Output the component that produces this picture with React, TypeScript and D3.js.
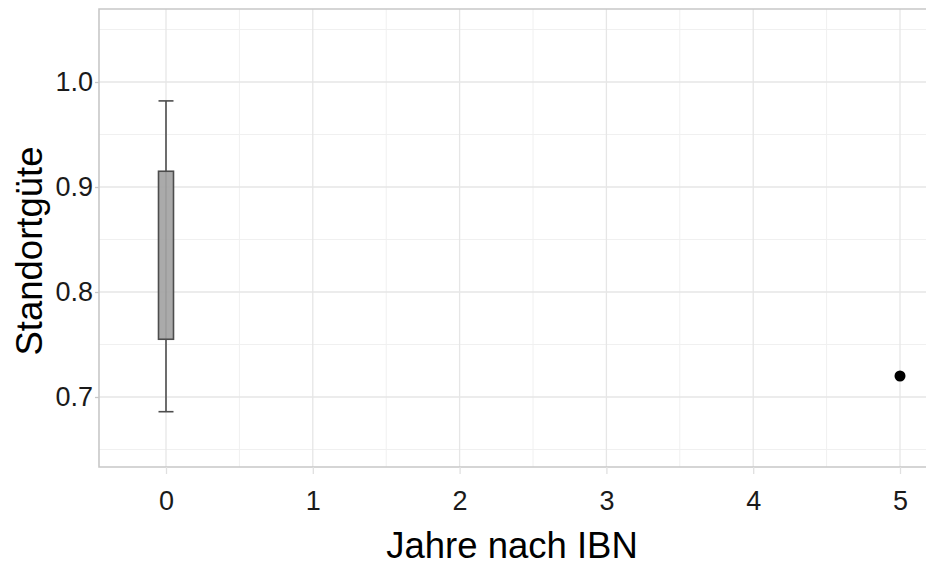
import { useEffect, useRef } from 'react';
import * as d3 from 'd3';

// box statistics per year (only year 0 has a box)
const boxYears = [0];
const boxLower = [0.686];
const boxQ1 = [0.755];
const boxQ3 = [0.915];
const boxUpper = [0.982];

// single observations
const pointYears = [5];
const pointValues = [0.72];

const xTicks = [0, 1, 2, 3, 4, 5];
const yTicks = [0.7, 0.8, 0.9, 1.0];
const yMinor = [0.65, 0.75, 0.85, 0.95, 1.05];
const xMinor = [0.5, 1.5, 2.5, 3.5, 4.5];

const W = 926;
const H = 566;
const panel = { left: 99, top: 9, right: 926, bottom: 467 };

function App() {
  const svgRef = useRef(null);

  useEffect(() => {
    const svg = d3.select(svgRef.current);
    svg.selectAll('*').remove();

    const x = d3.scaleLinear().domain([0, 5]).range([166, 900]);
    const y = d3.scaleLinear().domain([0.7, 1.0]).range([397, 82]);

    const font = 'Liberation Sans, Arial, Helvetica, sans-serif';

    // grid
    const grid = svg.append('g');
    grid
      .selectAll('line.ymin')
      .data(yMinor)
      .join('line')
      .attr('x1', panel.left)
      .attr('x2', panel.right)
      .attr('y1', d => y(d))
      .attr('y2', d => y(d))
      .attr('stroke', '#f0f0f0')
      .attr('stroke-width', 1);
    grid
      .selectAll('line.xmin')
      .data(xMinor)
      .join('line')
      .attr('y1', panel.top)
      .attr('y2', panel.bottom)
      .attr('x1', d => x(d))
      .attr('x2', d => x(d))
      .attr('stroke', '#f0f0f0')
      .attr('stroke-width', 1);
    grid
      .selectAll('line.ymaj')
      .data(yTicks)
      .join('line')
      .attr('x1', panel.left)
      .attr('x2', panel.right)
      .attr('y1', d => y(d))
      .attr('y2', d => y(d))
      .attr('stroke', '#e6e6e6')
      .attr('stroke-width', 1.3);
    grid
      .selectAll('line.xmaj')
      .data(xTicks)
      .join('line')
      .attr('y1', panel.top)
      .attr('y2', panel.bottom)
      .attr('x1', d => x(d))
      .attr('x2', d => x(d))
      .attr('stroke', '#e6e6e6')
      .attr('stroke-width', 1.3);

    // panel border (left, top, bottom)
    svg
      .append('path')
      .attr('d', `M${panel.right + 2},${panel.top}H${panel.left}V${panel.bottom}H${panel.right + 2}`)
      .attr('fill', 'none')
      .attr('stroke', '#c8c8c8')
      .attr('stroke-width', 1.6);

    // axes
    const xAxis = svg
      .append('g')
      .attr('transform', `translate(0,${panel.bottom})`)
      .call(d3.axisBottom(x).tickValues(xTicks).tickSize(7).tickPadding(17).tickFormat(d3.format('d')));
    xAxis.select('.domain').remove();
    xAxis.selectAll('line').attr('stroke', '#e0e0e0').attr('stroke-width', 1.3);
    xAxis.selectAll('text').attr('font-family', font).attr('font-size', 27).attr('fill', '#1a1a1a');

    const yAxis = svg
      .append('g')
      .attr('transform', `translate(${panel.left},0)`)
      .call(d3.axisLeft(y).tickValues(yTicks).tickSize(4).tickPadding(2).tickFormat(d3.format('.1f')));
    yAxis.select('.domain').remove();
    yAxis.selectAll('line').attr('stroke', '#c8c8c8').attr('stroke-width', 1.3);
    yAxis.selectAll('text').attr('font-family', font).attr('font-size', 27).attr('fill', '#1a1a1a');

    // boxplot
    const bw = 15;
    const boxes = svg.append('g');
    boxYears.forEach((yr, i) => {
      const cx = x(yr);
      boxes
        .append('line')
        .attr('x1', cx)
        .attr('x2', cx)
        .attr('y1', y(boxUpper[i]))
        .attr('y2', y(boxLower[i]))
        .attr('stroke', '#4d4d4d')
        .attr('stroke-width', 1.6);
      [boxUpper[i], boxLower[i]].forEach(v => {
        boxes
          .append('line')
          .attr('x1', cx - bw / 2)
          .attr('x2', cx + bw / 2)
          .attr('y1', y(v))
          .attr('y2', y(v))
          .attr('stroke', '#4d4d4d')
          .attr('stroke-width', 1.6);
      });
      boxes
        .append('rect')
        .attr('x', cx - bw / 2)
        .attr('width', bw)
        .attr('y', y(boxQ3[i]))
        .attr('height', y(boxQ1[i]) - y(boxQ3[i]))
        .attr('fill', '#a3a3a3')
        .attr('fill-opacity', 0.92)
        .attr('stroke', '#4d4d4d')
        .attr('stroke-width', 1.6);
    });

    svg
      .append('g')
      .selectAll('circle')
      .data(pointYears)
      .join('circle')
      .attr('cx', d => x(d))
      .attr('cy', (_d, i) => y(pointValues[i]))
      .attr('r', 5.5)
      .attr('fill', '#000');

    // titles
    svg
      .append('text')
      .attr('x', 512)
      .attr('y', 558)
      .attr('text-anchor', 'middle')
      .attr('font-family', font)
      .attr('font-size', 36.5)
      .attr('fill', '#000')
      .text('Jahre nach IBN');

    svg
      .append('text')
      .attr('transform', `translate(42,251) rotate(-90)`)
      .attr('text-anchor', 'middle')
      .attr('font-family', font)
      .attr('font-size', 36.5)
      .attr('fill', '#000')
      .text('Standortgüte');
  }, []);

  return (
    <svg
      ref={svgRef}
      width={W}
      height={H}
      style={{ position: 'absolute', left: 0, top: 0, background: '#fff' }}
    />
  );
}

export default App;
